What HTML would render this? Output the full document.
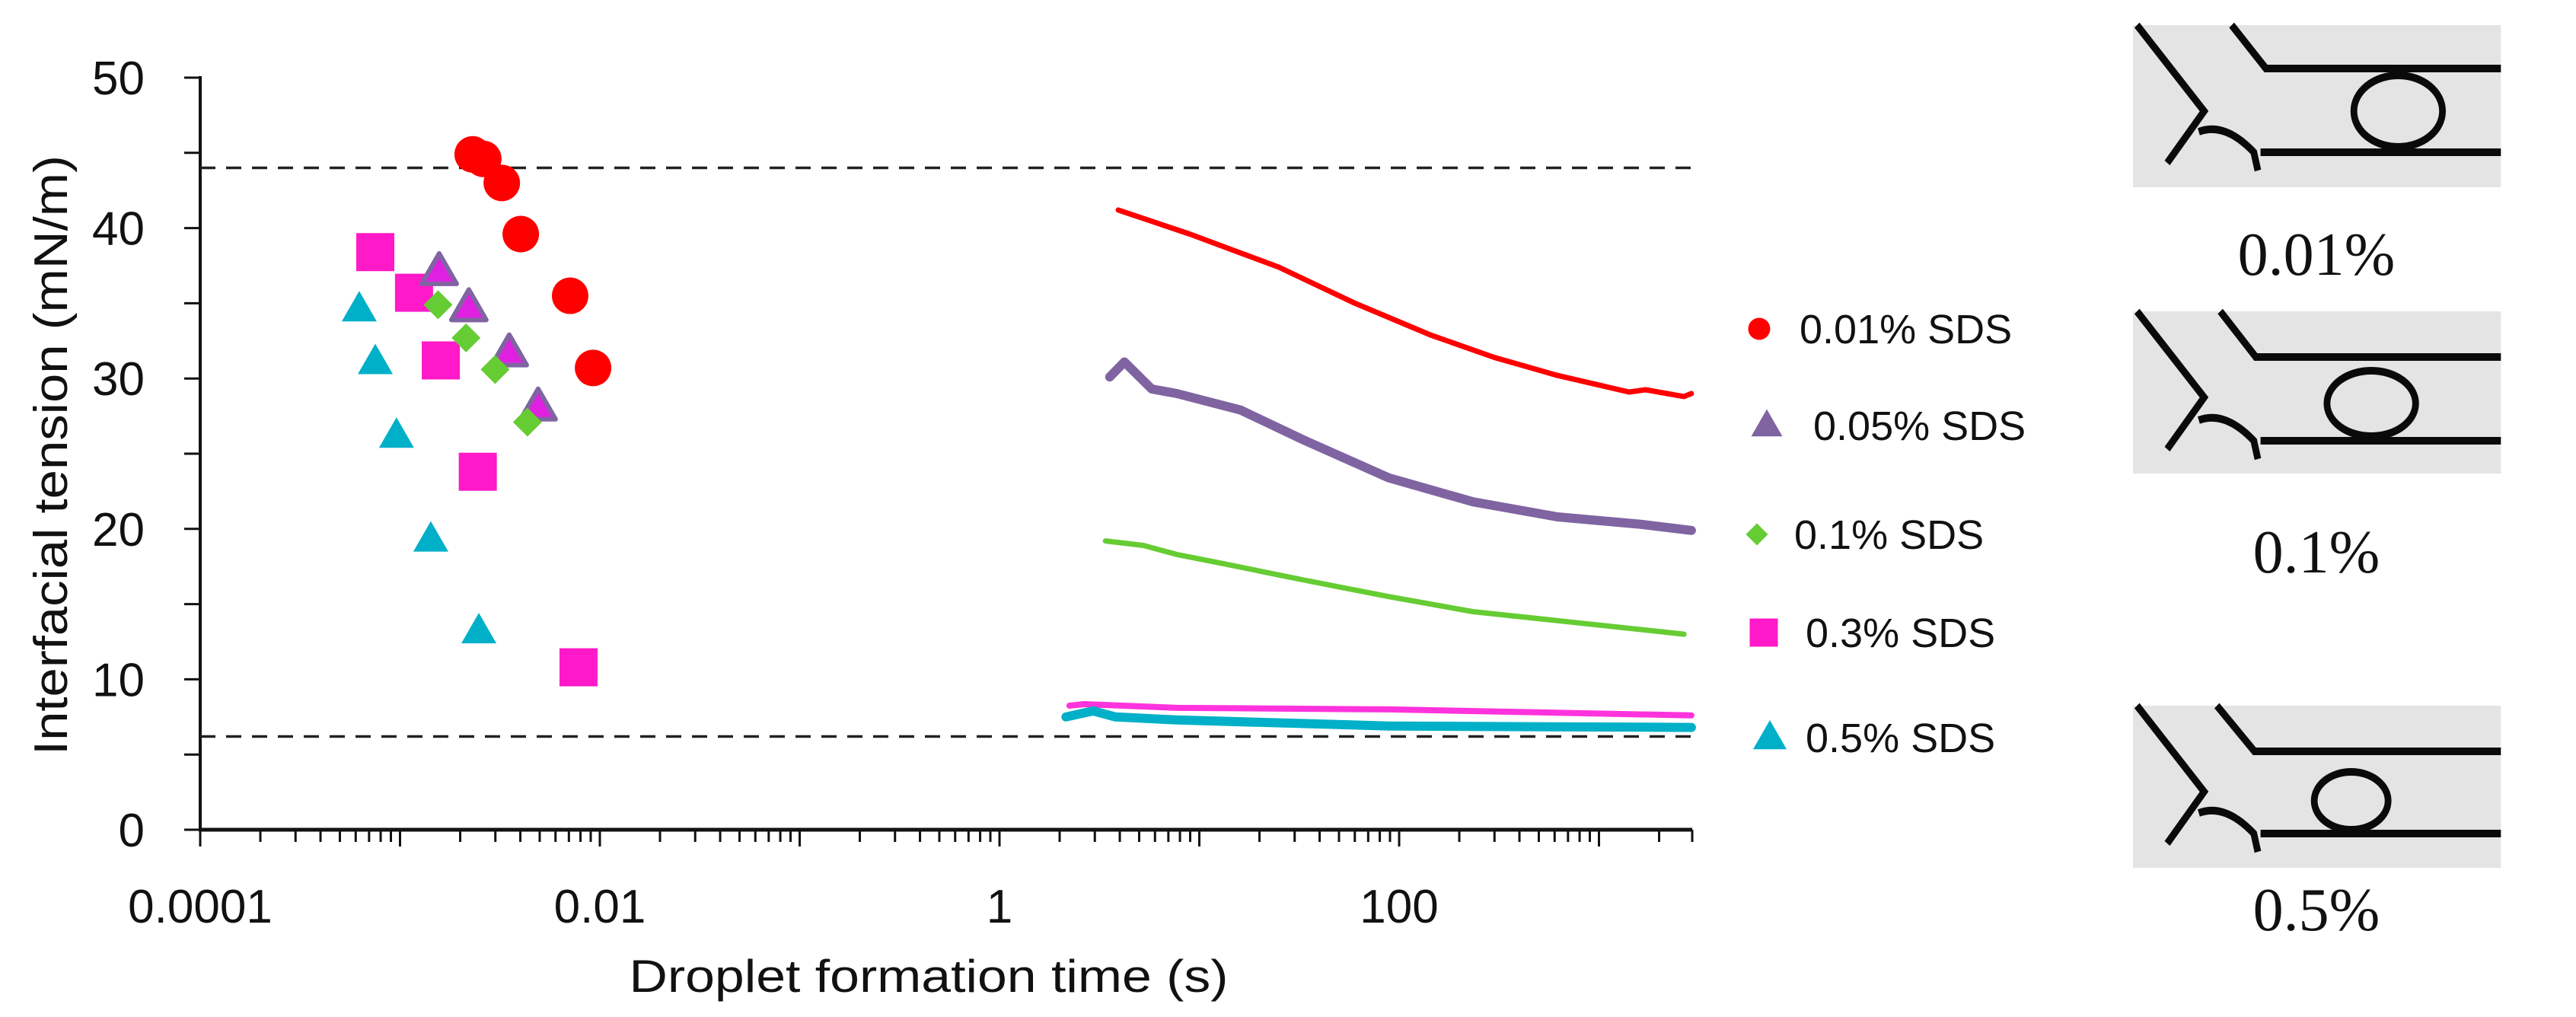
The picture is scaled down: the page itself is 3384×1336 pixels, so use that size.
<!DOCTYPE html>
<html><head><meta charset="utf-8"><style>
html,body{margin:0;padding:0;background:#fff;}
svg{display:block;}
text{font-family:"Liberation Sans",sans-serif;fill:#111;}
</style></head><body>
<svg id="chart" width="3384" height="1336" viewBox="0 0 3384 1336" xmlns="http://www.w3.org/2000/svg">
<g id="axes"></g>
<g id="refs"></g>
<g id="lines"></g>
<g id="points"></g>
<g id="legend"></g>
<g id="photos"></g>
</svg>
<script>
const NS="http://www.w3.org/2000/svg";
// ---- data ----
const yTicks=[0,10,20,30,40,50];
const xTickLabels=["0.0001","0.01","1","100"];
const xTickValues=[0.0001,0.01,1,100];
const refLines=[44,6.2];
const c001T=[0.00231,0.00261,0.00323,0.00402,0.0071,0.00925];
const c001V=[44.9,44.6,43.0,39.6,35.5,30.7];
const c005T=[0.00157,0.00221,0.00352,0.00491];
const c005V=[37.1,34.7,31.7,28.1];
const c01T=[0.00155,0.00214,0.00299,0.00434];
const c01V=[34.9,32.7,30.6,27.1];
const c03T=[0.000752,0.001175,0.0016,0.00245,0.00782];
const c03V=[38.4,35.7,31.2,23.8,10.8];
const c05T=[0.000625,0.000752,0.00096,0.001426,0.00248];
const c05V=[34.6,31.1,26.2,19.3,13.2];
const l001T=[3.93,8.96,25,60.1,143,299,620,1413,1713,2661,2900];
const l001V=[41.2,39.6,37.4,35.0,32.9,31.4,30.2,29.1,29.25,28.8,29.0];
const l005T=[3.56,4.22,5.78,7.72,16.1,33.4,88.5,234,620,1640,2900];
const l005V=[30.1,31.1,29.3,29.0,27.9,25.9,23.4,21.8,20.8,20.3,19.9];
const l01T=[3.39,5.25,7.72,12.0,33.4,88.5,234,620,2661];
const l01V=[19.2,18.9,18.3,17.8,16.6,15.5,14.5,13.9,13.0];
const l03T=[2.24,2.65,7.72,88.5,2900];
const l03V=[8.25,8.35,8.1,8.0,7.6];
const l05T=[2.15,2.95,3.8,7.72,88.5,2900];
const l05V=[7.5,7.9,7.5,7.3,6.9,6.8];
const legendLabels=["0.01% SDS","0.05% SDS","0.1% SDS","0.3% SDS","0.5% SDS"];
const photoLabels=["0.01%","0.1%","0.5%"];

// ---- axes functions ----
const X0=263, DEC=262.5, XEND=2223, Y0=1090, YU=19.76;
const xs=t=>X0+(Math.log10(t)+4)*DEC;
const ys=v=>Y0-v*YU;
function mk(tag,attrs,parent){const e=document.createElementNS(NS,tag);for(const k in attrs)e.setAttribute(k,attrs[k]);parent.appendChild(e);return e;}

const ax=document.getElementById('axes');
let e=mk('line',{x1:X0,y1:ys(50)-2,x2:X0,y2:Y0,stroke:'#111','stroke-width':4},ax);


e=mk('line',{x1:X0-2,y1:Y0,x2:XEND,y2:Y0,stroke:'#111','stroke-width':5},ax);


for(let v=0;v<=50;v+=5){
  e=mk('line',{x1:X0-21,y1:ys(v),x2:X0,y2:ys(v),stroke:'#111','stroke-width':3},ax);
  
  
}
yTicks.forEach(v=>{
  e=mk('text',{x:190,y:ys(v)+22,'text-anchor':'end','font-size':62},ax);
  e.textContent=v;
  
  
});
for(let d=-4;d<=3;d++){
  for(let m=1;m<=9;m++){
    const t=m*Math.pow(10,d); const x=xs(t); if(x>XEND+1)break;
    e=mk('line',{x1:x,y1:Y0,x2:x,y2:m===1?1112:1106,stroke:'#111','stroke-width':3},ax);
    
    
  }
}
e=mk('line',{x1:XEND,y1:Y0,x2:XEND,y2:1106,stroke:'#111','stroke-width':3},ax);


xTickValues.forEach((t,i)=>{
  e=mk('text',{x:xs(t),y:1212,'text-anchor':'middle','font-size':62},ax);
  e.textContent=xTickLabels[i];
  
  
});
e=mk('text',{x:1220,y:1303,'text-anchor':'middle','font-size':60,textLength:787,lengthAdjust:'spacingAndGlyphs'},ax);
e.textContent="Droplet formation time (s)";


e=mk('text',{x:0,y:0,'text-anchor':'middle','font-size':62,textLength:788,lengthAdjust:'spacingAndGlyphs',transform:'translate(88,598) rotate(-90)'},ax);
e.textContent="Interfacial tension (mN/m)";



const rf=document.getElementById('refs');
refLines.forEach(v=>{
  e=mk('line',{x1:X0,y1:ys(v),x2:XEND,y2:ys(v),stroke:'#222','stroke-width':3.5,'stroke-dasharray':'20 14'},rf);
  
  
});

// lines
const lg=document.getElementById('lines');
function series(T,V,color,w,name){
  const d=T.map((t,i)=>(i?'L':'M')+xs(t).toFixed(1)+','+ys(V[i]).toFixed(1)).join(' ');
  const p=mk('path',{d:d,fill:'none',stroke:color,'stroke-width':w,'stroke-linejoin':'round','stroke-linecap':'round'},lg);
  
  
}
series(l001T,l001V,'#ff0000',7,'line-0-01-sds');
series(l005T,l005V,'#8064a2',12,'line-0-05-sds');
series(l01T,l01V,'#66cc33',7,'line-0-1-sds');
series(l03T,l03V,'#ff33dd',8,'line-0-3-sds');
series(l05T,l05V,'#00b0c8',12,'line-0-5-sds');

// markers
function marker(type,cx,cy,s,parent,fill,stroke){
  let el;
  if(type==='circle') el=mk('ellipse',{cx:cx,cy:cy,rx:s/2,ry:s/2,fill:fill},parent);
  else if(type==='square') el=mk('rect',{x:cx-s/2,y:cy-s/2,width:s,height:s,fill:fill},parent);
  else if(type==='diamond') el=mk('polygon',{points:`${cx},${cy-s/2} ${cx+s/2},${cy} ${cx},${cy+s/2} ${cx-s/2},${cy}`,fill:fill},parent);
  else { const h=s*0.87; el=mk('polygon',{points:`${cx},${cy-h*0.6} ${cx+s/2},${cy+h*0.4} ${cx-s/2},${cy+h*0.4}`,fill:fill},parent);}
  if(stroke){el.setAttribute('stroke',stroke);el.setAttribute('stroke-width',6);el.setAttribute('stroke-linejoin','round');}
  return el;
}
const pg=document.getElementById('points');
function scatter(T,V,type,s,fill,stroke,name){
  T.forEach((t,i)=>{
    const el=marker(type,xs(t),ys(V[i]),s,pg,fill,stroke);
    
    
  });
}
scatter(c05T,c05V,'triangle',46,'#00b0c8',null,'point-0-5-sds');
scatter(c03T,c03V,'square',50,'#ff19c8',null,'point-0-3-sds');
scatter(c005T,c005V,'triangle',46,'#e020e0','#8064a2','point-0-05-sds');
scatter(c01T,c01V,'diamond',38,'#66cc33',null,'point-0-1-sds');
scatter(c001T,c001V,'circle',48,'#ff0000',null,'point-0-01-sds');

// legend
const lgd=document.getElementById('legend');
const legTypes=['circle','triangle','diamond','square','triangle'];
const legColors=['#ff0000','#8064a2','#66cc33','#ff19c8','#00b0c8'];
const legSizes=[29,41,29,37,44];
const legMX=[2311,2321,2308,2317,2325];
const legY=[432,559,702,831,969];
const legTX=[2364,2382,2357,2372,2372];
legendLabels.forEach((lab,i)=>{
  const g=mk('g',{},lgd);
  
  
  const m=marker(legTypes[i],legMX[i],legY[i],legSizes[i],g,legColors[i],null);
  
  
  const t=mk('text',{x:legTX[i],y:legY[i]+19,'font-size':54},g);
  t.textContent=lab;
  
  
});

// photos
const ph=document.getElementById('photos');
const photoY=[33,409,927];
const labelY=[361,752,1222];
const drop=[[395,113,66,47],[355,121,66,43],[325,125,55,38]];
const topBend=[[147,198,57],[130,183,60],[125,181,60]];
const botY=[167,170,168];
photoY.forEach((py,i)=>{
  const g=mk('g',{transform:`translate(2802,${py}) scale(0.882,1)`},ph);
  
  
  mk('rect',{x:0,y:0,width:548,height:213,fill:'#e4e4e4'},g);
  const st={fill:'none',stroke:'#0a0a0a','stroke-width':10,'stroke-linejoin':'miter'};
  mk('polyline',Object.assign({points:'6,0 106,113 51,181'},st),g);
  const tb=topBend[i];
  mk('polyline',Object.assign({points:`${tb[0]},0 ${tb[1]},${tb[2]} 548,${tb[2]}`},st),g);
  const by=botY[i];
  mk('path',Object.assign({d:`M98,${by-27} Q137,${by-40} 180,${by} L186,${by+24} M190,${by} L548,${by}`},st),g);
  const dp=drop[i];
  mk('ellipse',Object.assign({cx:dp[0],cy:dp[1],rx:dp[2],ry:dp[3]},st),g);
  const t=mk('text',{x:3043,y:labelY[i],'text-anchor':'middle','font-size':80,style:'font-family:"Liberation Serif",serif'},ph);
  t.textContent=photoLabels[i];
  
  
});
</script>
</body></html>
